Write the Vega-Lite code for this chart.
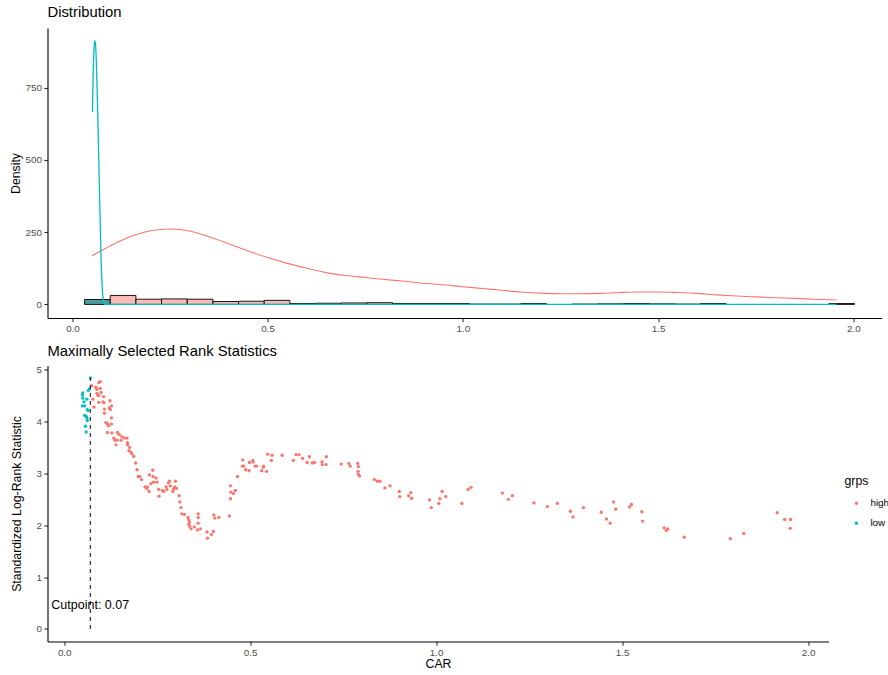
{
  "$schema": "https://vega.github.io/schema/vega-lite/v6.json",
  "padding": {"left": 8.5, "top": 5, "right": 0, "bottom": 0},
  "background": "white",
  "spacing": 9.5,
  "config": {
    "view": {"stroke": null},
    "font": "Liberation Sans",
    "axis": {
      "grid": false,
      "domainColor": "black",
      "domainWidth": 1.1,
      "tickColor": "#333333",
      "tickSize": 3.7,
      "tickWidth": 1.1,
      "labelColor": "#4D4D4D",
      "labelFontSize": 9.9,
      "labelPadding": 2.2,
      "titleColor": "black",
      "titleFontSize": 12.3,
      "titleFontWeight": "normal",
      "labelFont": "Liberation Sans",
      "titleFont": "Liberation Sans"
    },
    "title": {"font": "Liberation Sans"}
  },
  "datasets": {
    "hist": [
      {"x0": 0.0310, "x1": 0.0967, "count": 17, "grp": "low"},
      {"x0": 0.0967, "x1": 0.1625, "count": 31, "grp": "high"},
      {"x0": 0.1625, "x1": 0.2282, "count": 18, "grp": "high"},
      {"x0": 0.2282, "x1": 0.2939, "count": 19, "grp": "high"},
      {"x0": 0.2939, "x1": 0.3597, "count": 18, "grp": "high"},
      {"x0": 0.3597, "x1": 0.4254, "count": 10, "grp": "high"},
      {"x0": 0.4254, "x1": 0.4911, "count": 11, "grp": "high"},
      {"x0": 0.4911, "x1": 0.5568, "count": 14, "grp": "high"},
      {"x0": 0.5568, "x1": 0.6226, "count": 3, "grp": "high"},
      {"x0": 0.6226, "x1": 0.6883, "count": 4, "grp": "high"},
      {"x0": 0.6883, "x1": 0.7540, "count": 5, "grp": "high"},
      {"x0": 0.7540, "x1": 0.8198, "count": 6, "grp": "high"},
      {"x0": 0.8198, "x1": 0.8855, "count": 3, "grp": "high"},
      {"x0": 0.8855, "x1": 0.9512, "count": 3, "grp": "high"},
      {"x0": 0.9512, "x1": 1.0170, "count": 3, "grp": "high"},
      {"x0": 1.0170, "x1": 1.0827, "count": 1, "grp": "high"},
      {"x0": 1.0827, "x1": 1.1484, "count": 1, "grp": "high"},
      {"x0": 1.1484, "x1": 1.2141, "count": 3, "grp": "high"},
      {"x0": 1.2799, "x1": 1.3456, "count": 1, "grp": "high"},
      {"x0": 1.3456, "x1": 1.4113, "count": 2, "grp": "high"},
      {"x0": 1.4113, "x1": 1.4771, "count": 3, "grp": "high"},
      {"x0": 1.4771, "x1": 1.5428, "count": 2, "grp": "high"},
      {"x0": 1.5428, "x1": 1.6085, "count": 1, "grp": "high"},
      {"x0": 1.6085, "x1": 1.6743, "count": 3, "grp": "high"},
      {"x0": 1.9372, "x1": 2.0029, "count": 3, "grp": "high"}
    ],
    "dens": [
      {"car": 0.050, "density": 168, "grp": "high"},
      {"car": 0.10, "density": 205, "grp": "high"},
      {"car": 0.15, "density": 236, "grp": "high"},
      {"car": 0.20, "density": 255, "grp": "high"},
      {"car": 0.25, "density": 261, "grp": "high"},
      {"car": 0.30, "density": 254, "grp": "high"},
      {"car": 0.35, "density": 234, "grp": "high"},
      {"car": 0.40, "density": 210, "grp": "high"},
      {"car": 0.45, "density": 185, "grp": "high"},
      {"car": 0.50, "density": 162, "grp": "high"},
      {"car": 0.55, "density": 142, "grp": "high"},
      {"car": 0.60, "density": 125, "grp": "high"},
      {"car": 0.65, "density": 110, "grp": "high"},
      {"car": 0.70, "density": 100, "grp": "high"},
      {"car": 0.75, "density": 93, "grp": "high"},
      {"car": 0.80, "density": 86, "grp": "high"},
      {"car": 0.85, "density": 80, "grp": "high"},
      {"car": 0.90, "density": 73, "grp": "high"},
      {"car": 0.95, "density": 68, "grp": "high"},
      {"car": 1.00, "density": 61, "grp": "high"},
      {"car": 1.05, "density": 55, "grp": "high"},
      {"car": 1.10, "density": 49, "grp": "high"},
      {"car": 1.15, "density": 43, "grp": "high"},
      {"car": 1.20, "density": 39, "grp": "high"},
      {"car": 1.25, "density": 37, "grp": "high"},
      {"car": 1.30, "density": 37, "grp": "high"},
      {"car": 1.35, "density": 38, "grp": "high"},
      {"car": 1.40, "density": 41, "grp": "high"},
      {"car": 1.45, "density": 43, "grp": "high"},
      {"car": 1.50, "density": 43, "grp": "high"},
      {"car": 1.55, "density": 41, "grp": "high"},
      {"car": 1.60, "density": 38, "grp": "high"},
      {"car": 1.65, "density": 33, "grp": "high"},
      {"car": 1.70, "density": 29, "grp": "high"},
      {"car": 1.75, "density": 26, "grp": "high"},
      {"car": 1.80, "density": 23, "grp": "high"},
      {"car": 1.85, "density": 21, "grp": "high"},
      {"car": 1.90, "density": 18, "grp": "high"},
      {"car": 1.957, "density": 15, "grp": "high"},
      {"car": 0.051, "density": 665, "grp": "low"},
      {"car": 0.053, "density": 800, "grp": "low"},
      {"car": 0.055, "density": 880, "grp": "low"},
      {"car": 0.057, "density": 912, "grp": "low"},
      {"car": 0.059, "density": 900, "grp": "low"},
      {"car": 0.061, "density": 840, "grp": "low"},
      {"car": 0.063, "density": 750, "grp": "low"},
      {"car": 0.065, "density": 640, "grp": "low"},
      {"car": 0.067, "density": 520, "grp": "low"},
      {"car": 0.069, "density": 400, "grp": "low"},
      {"car": 0.071, "density": 280, "grp": "low"},
      {"car": 0.073, "density": 170, "grp": "low"},
      {"car": 0.075, "density": 90, "grp": "low"},
      {"car": 0.077, "density": 40, "grp": "low"},
      {"car": 0.079, "density": 12, "grp": "low"},
      {"car": 0.081, "density": 2, "grp": "low"},
      {"car": 0.085, "density": 0, "grp": "low"},
      {"car": 0.5, "density": 0, "grp": "low"},
      {"car": 1.0, "density": 0, "grp": "low"},
      {"car": 1.5, "density": 0, "grp": "low"},
      {"car": 1.957, "density": 0, "grp": "low"}
    ],
    "stats": [
      {"car": 0.0708, "stat": 4.84, "grps": "low"},
      {"car": 0.068, "stat": 4.63, "grps": "low"},
      {"car": 0.065, "stat": 4.60, "grps": "low"},
      {"car": 0.050, "stat": 4.55, "grps": "low"},
      {"car": 0.049, "stat": 4.51, "grps": "low"},
      {"car": 0.050, "stat": 4.45, "grps": "low"},
      {"car": 0.061, "stat": 4.43, "grps": "low"},
      {"car": 0.053, "stat": 4.38, "grps": "low"},
      {"car": 0.049, "stat": 4.30, "grps": "low"},
      {"car": 0.055, "stat": 4.30, "grps": "low"},
      {"car": 0.062, "stat": 4.23, "grps": "low"},
      {"car": 0.064, "stat": 4.21, "grps": "low"},
      {"car": 0.055, "stat": 4.12, "grps": "low"},
      {"car": 0.059, "stat": 4.10, "grps": "low"},
      {"car": 0.061, "stat": 4.07, "grps": "low"},
      {"car": 0.062, "stat": 4.02, "grps": "low"},
      {"car": 0.057, "stat": 3.91, "grps": "low"},
      {"car": 0.059, "stat": 3.80, "grps": "low"},
      {"car": 0.074, "stat": 4.69, "grps": "high"},
      {"car": 0.085, "stat": 4.66, "grps": "high"},
      {"car": 0.088, "stat": 4.62, "grps": "high"},
      {"car": 0.093, "stat": 4.75, "grps": "high"},
      {"car": 0.097, "stat": 4.77, "grps": "high"},
      {"car": 0.097, "stat": 4.64, "grps": "high"},
      {"car": 0.088, "stat": 4.54, "grps": "high"},
      {"car": 0.093, "stat": 4.50, "grps": "high"},
      {"car": 0.090, "stat": 4.51, "grps": "high"},
      {"car": 0.099, "stat": 4.56, "grps": "high"},
      {"car": 0.106, "stat": 4.48, "grps": "high"},
      {"car": 0.077, "stat": 4.43, "grps": "high"},
      {"car": 0.093, "stat": 4.37, "grps": "high"},
      {"car": 0.104, "stat": 4.38, "grps": "high"},
      {"car": 0.107, "stat": 4.36, "grps": "high"},
      {"car": 0.123, "stat": 4.40, "grps": "high"},
      {"car": 0.080, "stat": 4.28, "grps": "high"},
      {"car": 0.127, "stat": 4.30, "grps": "high"},
      {"car": 0.121, "stat": 4.26, "grps": "high"},
      {"car": 0.124, "stat": 4.23, "grps": "high"},
      {"car": 0.108, "stat": 4.24, "grps": "high"},
      {"car": 0.108, "stat": 4.16, "grps": "high"},
      {"car": 0.127, "stat": 4.07, "grps": "high"},
      {"car": 0.112, "stat": 3.98, "grps": "high"},
      {"car": 0.116, "stat": 3.96, "grps": "high"},
      {"car": 0.119, "stat": 3.92, "grps": "high"},
      {"car": 0.127, "stat": 3.95, "grps": "high"},
      {"car": 0.116, "stat": 3.79, "grps": "high"},
      {"car": 0.128, "stat": 3.78, "grps": "high"},
      {"car": 0.143, "stat": 3.79, "grps": "high"},
      {"car": 0.148, "stat": 3.75, "grps": "high"},
      {"car": 0.155, "stat": 3.71, "grps": "high"},
      {"car": 0.162, "stat": 3.68, "grps": "high"},
      {"car": 0.169, "stat": 3.68, "grps": "high"},
      {"car": 0.133, "stat": 3.68, "grps": "high"},
      {"car": 0.136, "stat": 3.64, "grps": "high"},
      {"car": 0.142, "stat": 3.64, "grps": "high"},
      {"car": 0.153, "stat": 3.64, "grps": "high"},
      {"car": 0.139, "stat": 3.55, "grps": "high"},
      {"car": 0.170, "stat": 3.59, "grps": "high"},
      {"car": 0.170, "stat": 3.55, "grps": "high"},
      {"car": 0.176, "stat": 3.50, "grps": "high"},
      {"car": 0.174, "stat": 3.44, "grps": "high"},
      {"car": 0.179, "stat": 3.41, "grps": "high"},
      {"car": 0.182, "stat": 3.38, "grps": "high"},
      {"car": 0.187, "stat": 3.33, "grps": "high"},
      {"car": 0.192, "stat": 3.20, "grps": "high"},
      {"car": 0.196, "stat": 3.07, "grps": "high"},
      {"car": 0.199, "stat": 2.94, "grps": "high"},
      {"car": 0.203, "stat": 2.94, "grps": "high"},
      {"car": 0.208, "stat": 2.88, "grps": "high"},
      {"car": 0.217, "stat": 2.74, "grps": "high"},
      {"car": 0.224, "stat": 2.74, "grps": "high"},
      {"car": 0.222, "stat": 2.71, "grps": "high"},
      {"car": 0.228, "stat": 2.65, "grps": "high"},
      {"car": 0.229, "stat": 2.97, "grps": "high"},
      {"car": 0.238, "stat": 3.06, "grps": "high"},
      {"car": 0.239, "stat": 2.94, "grps": "high"},
      {"car": 0.247, "stat": 2.91, "grps": "high"},
      {"car": 0.240, "stat": 2.83, "grps": "high"},
      {"car": 0.233, "stat": 2.80, "grps": "high"},
      {"car": 0.249, "stat": 2.83, "grps": "high"},
      {"car": 0.254, "stat": 2.69, "grps": "high"},
      {"car": 0.255, "stat": 2.56, "grps": "high"},
      {"car": 0.264, "stat": 2.67, "grps": "high"},
      {"car": 0.268, "stat": 2.65, "grps": "high"},
      {"car": 0.274, "stat": 2.74, "grps": "high"},
      {"car": 0.280, "stat": 2.82, "grps": "high"},
      {"car": 0.283, "stat": 2.85, "grps": "high"},
      {"car": 0.276, "stat": 2.69, "grps": "high"},
      {"car": 0.285, "stat": 2.76, "grps": "high"},
      {"car": 0.292, "stat": 2.65, "grps": "high"},
      {"car": 0.297, "stat": 2.74, "grps": "high"},
      {"car": 0.294, "stat": 2.70, "grps": "high"},
      {"car": 0.299, "stat": 2.85, "grps": "high"},
      {"car": 0.302, "stat": 2.71, "grps": "high"},
      {"car": 0.309, "stat": 2.57, "grps": "high"},
      {"car": 0.311, "stat": 2.45, "grps": "high"},
      {"car": 0.314, "stat": 2.34, "grps": "high"},
      {"car": 0.316, "stat": 2.22, "grps": "high"},
      {"car": 0.323, "stat": 2.21, "grps": "high"},
      {"car": 0.333, "stat": 2.15, "grps": "high"},
      {"car": 0.335, "stat": 2.10, "grps": "high"},
      {"car": 0.337, "stat": 2.06, "grps": "high"},
      {"car": 0.335, "stat": 2.02, "grps": "high"},
      {"car": 0.337, "stat": 1.98, "grps": "high"},
      {"car": 0.341, "stat": 1.93, "grps": "high"},
      {"car": 0.350, "stat": 1.97, "grps": "high"},
      {"car": 0.358, "stat": 1.91, "grps": "high"},
      {"car": 0.366, "stat": 1.93, "grps": "high"},
      {"car": 0.360, "stat": 2.22, "grps": "high"},
      {"car": 0.360, "stat": 2.15, "grps": "high"},
      {"car": 0.360, "stat": 2.04, "grps": "high"},
      {"car": 0.384, "stat": 1.87, "grps": "high"},
      {"car": 0.385, "stat": 1.75, "grps": "high"},
      {"car": 0.396, "stat": 1.82, "grps": "high"},
      {"car": 0.401, "stat": 1.88, "grps": "high"},
      {"car": 0.402, "stat": 2.20, "grps": "high"},
      {"car": 0.405, "stat": 2.14, "grps": "high"},
      {"car": 0.416, "stat": 2.15, "grps": "high"},
      {"car": 0.444, "stat": 2.18, "grps": "high"},
      {"car": 0.447, "stat": 2.51, "grps": "high"},
      {"car": 0.448, "stat": 2.64, "grps": "high"},
      {"car": 0.455, "stat": 2.61, "grps": "high"},
      {"car": 0.460, "stat": 2.67, "grps": "high"},
      {"car": 0.447, "stat": 2.76, "grps": "high"},
      {"car": 0.466, "stat": 2.94, "grps": "high"},
      {"car": 0.480, "stat": 3.26, "grps": "high"},
      {"car": 0.479, "stat": 3.14, "grps": "high"},
      {"car": 0.483, "stat": 3.14, "grps": "high"},
      {"car": 0.488, "stat": 3.07, "grps": "high"},
      {"car": 0.497, "stat": 3.05, "grps": "high"},
      {"car": 0.498, "stat": 3.21, "grps": "high"},
      {"car": 0.507, "stat": 3.25, "grps": "high"},
      {"car": 0.508, "stat": 3.22, "grps": "high"},
      {"car": 0.513, "stat": 3.14, "grps": "high"},
      {"car": 0.517, "stat": 3.14, "grps": "high"},
      {"car": 0.531, "stat": 3.05, "grps": "high"},
      {"car": 0.535, "stat": 3.12, "grps": "high"},
      {"car": 0.536, "stat": 3.14, "grps": "high"},
      {"car": 0.544, "stat": 3.04, "grps": "high"},
      {"car": 0.547, "stat": 3.37, "grps": "high"},
      {"car": 0.557, "stat": 3.25, "grps": "high"},
      {"car": 0.559, "stat": 3.35, "grps": "high"},
      {"car": 0.586, "stat": 3.35, "grps": "high"},
      {"car": 0.616, "stat": 3.25, "grps": "high"},
      {"car": 0.623, "stat": 3.36, "grps": "high"},
      {"car": 0.631, "stat": 3.36, "grps": "high"},
      {"car": 0.641, "stat": 3.29, "grps": "high"},
      {"car": 0.653, "stat": 3.21, "grps": "high"},
      {"car": 0.659, "stat": 3.32, "grps": "high"},
      {"car": 0.667, "stat": 3.20, "grps": "high"},
      {"car": 0.673, "stat": 3.21, "grps": "high"},
      {"car": 0.693, "stat": 3.22, "grps": "high"},
      {"car": 0.694, "stat": 3.17, "grps": "high"},
      {"car": 0.704, "stat": 3.17, "grps": "high"},
      {"car": 0.705, "stat": 3.32, "grps": "high"},
      {"car": 0.745, "stat": 3.18, "grps": "high"},
      {"car": 0.765, "stat": 3.19, "grps": "high"},
      {"car": 0.769, "stat": 3.14, "grps": "high"},
      {"car": 0.789, "stat": 3.19, "grps": "high"},
      {"car": 0.791, "stat": 3.13, "grps": "high"},
      {"car": 0.790, "stat": 3.04, "grps": "high"},
      {"car": 0.791, "stat": 2.98, "grps": "high"},
      {"car": 0.794, "stat": 2.95, "grps": "high"},
      {"car": 0.834, "stat": 2.88, "grps": "high"},
      {"car": 0.842, "stat": 2.85, "grps": "high"},
      {"car": 0.849, "stat": 2.85, "grps": "high"},
      {"car": 0.862, "stat": 2.72, "grps": "high"},
      {"car": 0.876, "stat": 2.76, "grps": "high"},
      {"car": 0.901, "stat": 2.65, "grps": "high"},
      {"car": 0.902, "stat": 2.55, "grps": "high"},
      {"car": 0.926, "stat": 2.57, "grps": "high"},
      {"car": 0.932, "stat": 2.63, "grps": "high"},
      {"car": 0.934, "stat": 2.52, "grps": "high"},
      {"car": 0.982, "stat": 2.49, "grps": "high"},
      {"car": 0.987, "stat": 2.34, "grps": "high"},
      {"car": 1.007, "stat": 2.42, "grps": "high"},
      {"car": 1.010, "stat": 2.51, "grps": "high"},
      {"car": 1.016, "stat": 2.65, "grps": "high"},
      {"car": 1.026, "stat": 2.55, "grps": "high"},
      {"car": 1.069, "stat": 2.42, "grps": "high"},
      {"car": 1.086, "stat": 2.69, "grps": "high"},
      {"car": 1.094, "stat": 2.73, "grps": "high"},
      {"car": 1.178, "stat": 2.62, "grps": "high"},
      {"car": 1.194, "stat": 2.50, "grps": "high"},
      {"car": 1.205, "stat": 2.57, "grps": "high"},
      {"car": 1.263, "stat": 2.43, "grps": "high"},
      {"car": 1.299, "stat": 2.36, "grps": "high"},
      {"car": 1.326, "stat": 2.42, "grps": "high"},
      {"car": 1.361, "stat": 2.27, "grps": "high"},
      {"car": 1.368, "stat": 2.16, "grps": "high"},
      {"car": 1.396, "stat": 2.34, "grps": "high"},
      {"car": 1.444, "stat": 2.25, "grps": "high"},
      {"car": 1.458, "stat": 2.12, "grps": "high"},
      {"car": 1.468, "stat": 2.04, "grps": "high"},
      {"car": 1.477, "stat": 2.45, "grps": "high"},
      {"car": 1.483, "stat": 2.31, "grps": "high"},
      {"car": 1.520, "stat": 2.35, "grps": "high"},
      {"car": 1.525, "stat": 2.40, "grps": "high"},
      {"car": 1.553, "stat": 2.26, "grps": "high"},
      {"car": 1.555, "stat": 2.08, "grps": "high"},
      {"car": 1.613, "stat": 1.95, "grps": "high"},
      {"car": 1.619, "stat": 1.90, "grps": "high"},
      {"car": 1.623, "stat": 1.93, "grps": "high"},
      {"car": 1.667, "stat": 1.77, "grps": "high"},
      {"car": 1.791, "stat": 1.74, "grps": "high"},
      {"car": 1.827, "stat": 1.84, "grps": "high"},
      {"car": 1.917, "stat": 2.24, "grps": "high"},
      {"car": 1.937, "stat": 2.11, "grps": "high"},
      {"car": 1.953, "stat": 2.11, "grps": "high"},
      {"car": 1.952, "stat": 1.94, "grps": "high"}
    ],
    "cut": [
      {"car": 0.07, "y0": 0, "y1": 4.84, "ylab": 0.47, "label": "Cutpoint: 0.07"}
    ]
  },
  "vconcat": [
    {
      "width": 834,
      "height": 290,
      "title": {"text": "Distribution", "anchor": "start", "frame": "group", "fontSize": 14.8, "fontWeight": "normal", "color": "black", "offset": 8},
      "layer": [
        {
          "data": {"name": "hist"},
          "mark": {"type": "rect", "stroke": "black", "strokeWidth": 0.9},
          "encoding": {
            "x": {"field": "x0", "type": "quantitative", "scale": {"domain": [-0.064, 2.072], "nice": false, "zero": false}, "axis": {"values": [0, 0.5, 1, 1.5, 2], "format": ".1f", "title": null}},
            "x2": {"field": "x1"},
            "y": {"field": "count", "type": "quantitative", "scale": {"domain": [-47, 956], "nice": false, "zero": false}, "axis": {"values": [0, 250, 500, 750], "title": "Density", "titlePadding": 2.8}},
            "y2": {"datum": 0},
            "fill": {"condition": {"test": "datum.grp === 'low'", "value": "#4C9E9E"}, "value": "#FBBAB6"}
          }
        },
        {
          "data": {"name": "dens"},
          "transform": [{"filter": "datum.grp === 'high'"}],
          "mark": {"type": "line", "color": "#F8766D", "strokeWidth": 1.1, "interpolate": "monotone"},
          "encoding": {
            "x": {"field": "car", "type": "quantitative"},
            "y": {"field": "density", "type": "quantitative"}
          }
        },
        {
          "data": {"name": "dens"},
          "transform": [{"filter": "datum.grp === 'low'"}],
          "mark": {"type": "line", "color": "#00BFC4", "strokeWidth": 1.3, "interpolate": "monotone"},
          "encoding": {
            "x": {"field": "car", "type": "quantitative"},
            "y": {"field": "density", "type": "quantitative"}
          }
        }
      ]
    },
    {
      "width": 781,
      "height": 276,
      "title": {"text": "Maximally Selected Rank Statistics", "anchor": "start", "frame": "group", "fontSize": 14.8, "fontWeight": "normal", "color": "black", "offset": 6},
      "layer": [
        {
          "data": {"name": "stats"},
          "mark": {"type": "point", "filled": true, "size": 11, "opacity": 1},
          "encoding": {
            "x": {"field": "car", "type": "quantitative", "scale": {"domain": [-0.045, 2.055], "nice": false, "zero": false}, "axis": {"values": [0, 0.5, 1, 1.5, 2], "format": ".1f", "title": "CAR", "titlePadding": 0}},
            "y": {"field": "stat", "type": "quantitative", "scale": {"domain": [-0.242, 5.08], "nice": false, "zero": false}, "axis": {"values": [0, 1, 2, 3, 4, 5], "title": "Standardized Log-Rank Statistic", "titlePadding": 12.5}},
            "color": {
              "field": "grps", "type": "nominal",
              "scale": {"domain": ["high", "low"], "range": ["#F8766D", "#00BFC4"]},
              "legend": {
                "title": "grps", "orient": "none", "legendX": 797, "legendY": 447,
                "titleFontSize": 12.3, "titleFontWeight": "normal", "titleColor": "black",
                "labelFontSize": 9.9, "labelColor": "black", "symbolSize": 12, "symbolType": "circle",
                "symbolOffset": 7, "labelOffset": 9, "rowPadding": 9, "titlePadding": 11, "padding": 0
              }
            }
          }
        },
        {
          "data": {"name": "cut"},
          "mark": {"type": "rule", "color": "black", "strokeWidth": 1, "strokeDash": [4, 4]},
          "encoding": {
            "x": {"field": "car", "type": "quantitative"},
            "y": {"field": "y0", "type": "quantitative"},
            "y2": {"field": "y1"}
          }
        },
        {
          "data": {"name": "cut"},
          "mark": {"type": "text", "fontSize": 12.5, "color": "black", "align": "center", "baseline": "middle"},
          "encoding": {
            "x": {"field": "car", "type": "quantitative"},
            "y": {"field": "ylab", "type": "quantitative"},
            "text": {"field": "label"}
          }
        }
      ]
    }
  ]
}
